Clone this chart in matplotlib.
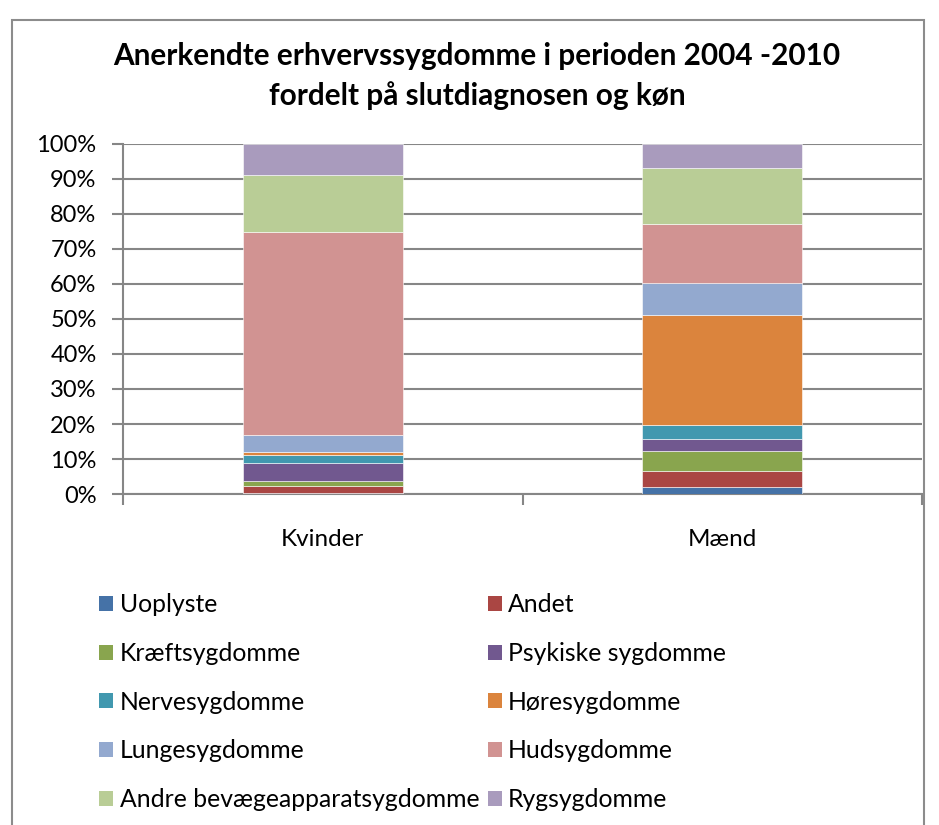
import matplotlib.pyplot as plt
from matplotlib.patches import Rectangle, Patch
from matplotlib.ticker import PercentFormatter

plt.rcParams['font.family'] = ['Lato', 'DejaVu Sans']

# kategorier og andele (procent af hvert køn)
groups = ["Kvinder", "Mænd"]
diagnoses = ["Uoplyste", "Andet", "Kræftsygdomme", "Psykiske sygdomme",
             "Nervesygdomme", "Høresygdomme", "Lungesygdomme", "Hudsygdomme",
             "Andre bevægeapparatsygdomme", "Rygsygdomme"]
kvinder = [0.2, 2.1, 1.3, 5.3, 2.3, 0.9, 4.9, 57.9, 16.2, 8.9]
maend = [2.1, 4.6, 5.5, 3.5, 3.9, 31.6, 9.0, 17.0, 15.8, 7.0]
colors = ["#4572A7", "#AA4643", "#89A54E", "#71588F", "#4198AF",
          "#DB843D", "#93A9CF", "#D19392", "#B9CD96", "#A99BBD"]

fig = plt.figure(figsize=(9.39, 8.25), dpi=100)
ax = fig.add_axes([0.131, 0.4012, 0.851, 0.4243])

grid_col = "#868686"
x = [0, 1]
bottom = [0, 0]
for i, name in enumerate(diagnoses):
    vals = [kvinder[i], maend[i]]
    ax.bar(x, vals, width=0.4, bottom=bottom, color=colors[i],
           edgecolor="white", linewidth=0.4, zorder=3)
    bottom = [b + v for b, v in zip(bottom, vals)]

ax.set_xlim(-0.5, 1.5)
ax.set_ylim(0, 100)
ax.set_yticks(range(0, 101, 10))
ax.yaxis.set_major_formatter(PercentFormatter(decimals=0))
ax.set_xticks(x)
ax.set_xticklabels(groups)
ax.set_xticks([-0.5, 0.5, 1.5], minor=True)
ax.tick_params(axis="x", which="major", length=0, pad=25, labelsize=17.5)
ax.tick_params(axis="x", which="minor", length=8, color=grid_col, width=1.5)
ax.tick_params(axis="y", length=8, color=grid_col, width=1.5, labelsize=17, pad=11)
ax.grid(axis="y", color=grid_col, linewidth=1.5, zorder=0)
for s in ["top", "right"]:
    ax.spines[s].set_visible(False)
ax.spines["left"].set_color(grid_col)
ax.spines["bottom"].set_color(grid_col)
ax.spines["left"].set_linewidth(1.5)
ax.spines["bottom"].set_linewidth(1.5)

fig.text(0.508, 0.908, "Anerkendte erhvervssygdomme i perioden 2004 -2010\nfordelt på slutdiagnosen og køn",
         ha="center", va="center", fontsize=21.4, fontweight="bold", linespacing=1.45)

# legende, udfyldt rækkevis i to kolonner
handles = [Patch(facecolor=c) for c in colors]
order = [0, 2, 4, 6, 8, 1, 3, 5, 7, 9]
fig.legend([handles[k] for k in order], [diagnoses[k] for k in order],
           ncol=2, loc="upper left", bbox_to_anchor=(0.082, 0.308),
           frameon=False, fontsize=17.8, handlelength=0.57, handleheight=0.57,
           handletextpad=0.25, columnspacing=0.35, labelspacing=1.04)

# ramme rundt om diagrammet
fig.patches.append(Rectangle((12 / 939, -0.01), 912 / 939, 1 - 20 / 825 + 0.01,
                             transform=fig.transFigure, fill=False,
                             edgecolor="#8c8c8c", linewidth=1.5))

fig.savefig("out.png", dpi=100)
